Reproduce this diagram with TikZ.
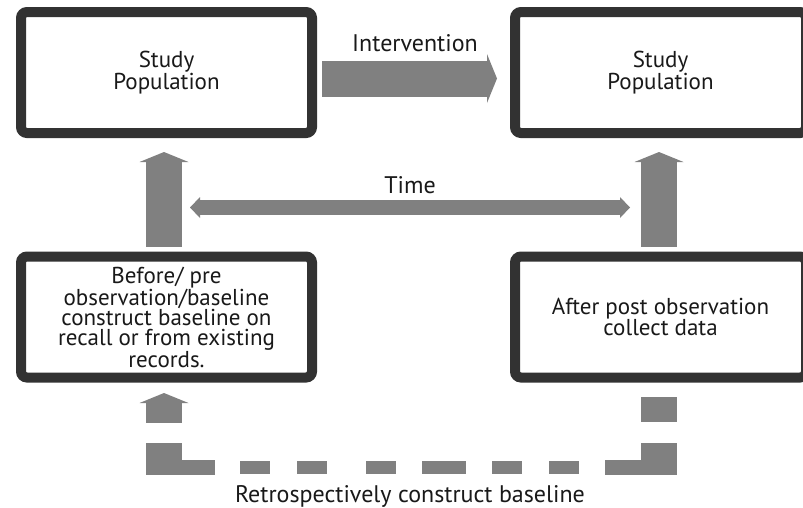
\documentclass[tikz,border=0pt]{standalone}
\usepackage{fontspec}
\setmainfont{PT Sans}
\usetikzlibrary{arrows.meta,calc,shadows}

\definecolor{framegray}{RGB}{50,50,50}
\definecolor{arrowgray}{RGB}{128,128,128}
\definecolor{inkgray}{RGB}{25,25,25}

\tikzset{
  popbox/.style={draw=framegray, fill=white, line width=10pt, rounded corners=6pt,
    minimum width=291pt, minimum height=121pt, inner sep=0pt, align=center,
    text=inkgray, font=\fontsize{23}{20}\selectfont,
    drop shadow={shadow xshift=1.5pt, shadow yshift=-3pt, opacity=0.3}},
  fatarrow/.style={draw=arrowgray, line width=36pt,
    -{Triangle[width=49pt,length=10pt,line width=0pt]}},
  timearrow/.style={draw=arrowgray, line width=15pt,
    {Triangle[width=21pt,length=10pt,line width=0pt]}-{Triangle[width=21pt,length=10pt,line width=0pt]}},
  lbl/.style={inner sep=0pt, text=inkgray, font=\fontsize{24}{24}\selectfont},
}

\begin{document}
\begin{tikzpicture}[x=1pt,y=1pt,yscale=-1,xscale=1]
  \useasboundingbox (0,0) rectangle (803,507);

  % Boxes
  \node[popbox] (sp1) at (166.5,72.5) {Study\\Population};
  \node[popbox] (sp2) at (660.5,72.5) {Study\\Population};
  \node[popbox] (pre) at (166.5,317) {Before/ pre\\observation/baseline\\construct baseline on\\recall or from existing\\records.};
  \node[popbox] (post) at (660.5,317) {After post observation\\collect data};

  % Arrows
  \draw[fatarrow] ($(sp1.east)+(5,6)$) -- ($(sp2.west)+(-13,6)$);
  \draw[fatarrow] ($(pre.north)+(-2.5,-5)$) -- ($(sp1.south)+(-2.5,14)$);
  \draw[fatarrow] ($(post.north)+(-1.5,-5)$) -- ($(sp2.south)+(-1.5,14)$);
  \draw[fatarrow] ($(pre.south)+(-2.5,40)$) -- ($(pre.south)+(-2.5,10.5)$);
  \fill[arrowgray] ($(post.south)+(-19.5,14)$) rectangle ($(post.south)+(16.5,39.5)$);

  % Time
  \coordinate (tl) at (190,207.5);
  \coordinate (tr) at (630,207.5);
  \draw[timearrow] (tl) -- (tr);

  % Dashed baseline
  \fill[arrowgray] (146,443) rectangle (182,475);
  \fill[arrowgray] (182,460) rectangle (215,475);
  \foreach \a/\b in {240/270,297/327,366/396,422/466,492/522,549/579}
    \fill[arrowgray] (\a,461) rectangle (\b,474);
  \fill[arrowgray] (605,460) rectangle (641,475);
  \fill[arrowgray] (641,443) rectangle (677,475);

  % Text Node
  \node[lbl, anchor=base] (intlbl) at (415,51) {Intervention};
  % Text Node
  \node[lbl, anchor=base] (timelbl) at (410,193) {Time};
  % Text Node
  \node[lbl, anchor=base] (retrolbl) at (410,502) {Retrospectively construct baseline};
\end{tikzpicture}
\end{document}
